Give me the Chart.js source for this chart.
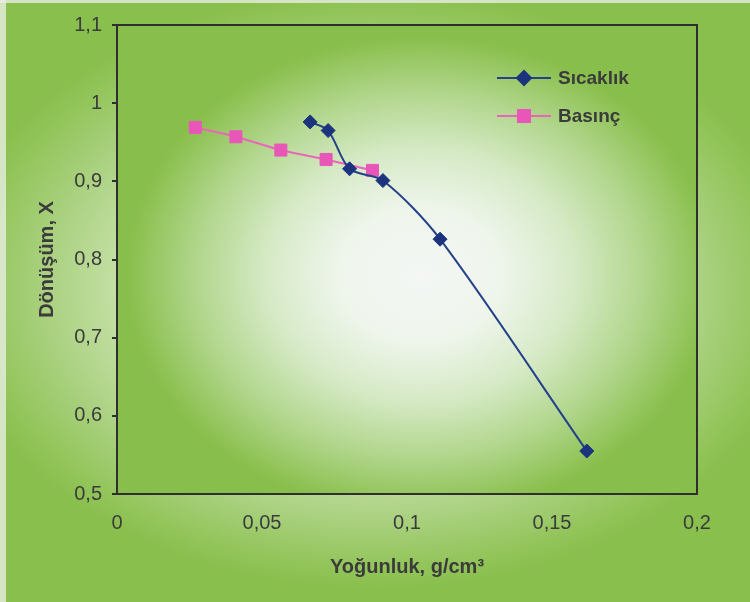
<!DOCTYPE html>
<html>
<head>
<meta charset="utf-8">
<script src="https://cdn.jsdelivr.net/npm/chart.js@4.4.1/dist/chart.umd.min.js"></script>
<style>
  html, body { margin: 0; padding: 0; background: #8bc152; }
  #wrap { width: 750px; height: 602px; }
</style>
</head>
<body>
<div id="wrap"><canvas id="conversionChart" width="750" height="602"></canvas></div>
<script>
// Dönüşüm (X) vs. yoğunluk, two series
const sicaklikDensity    = [0.0666, 0.0728, 0.0802, 0.0917, 0.1114, 0.1620];
const sicaklikConversion = [0.976, 0.965, 0.916, 0.901, 0.826, 0.555];
const basincDensity      = [0.0270, 0.0410, 0.0565, 0.0721, 0.0881];
const basincConversion   = [0.969, 0.957, 0.940, 0.928, 0.914];

const xTicks = [0, 0.05, 0.1, 0.15, 0.2];
const yTicks = [0.5, 0.6, 0.7, 0.8, 0.9, 1, 1.1];

const toPoints = (xs, ys) => xs.map((x, i) => ({ x: x, y: ys[i] }));
const comma = v => String(Math.round(v * 100) / 100).replace('.', ',');

const FONT = '"Liberation Sans", Arial, sans-serif';
const INK = '#3b3b3b';

// green backdrop with the light centre, plus the plot area's own fill
const backdrop = {
    id: 'backdrop',
    beforeDraw(chart) {
        const ctx = chart.ctx;
        const { width, height } = chart;
        const a = chart.chartArea;

        ctx.save();
        ctx.translate(375, 290);
        ctx.scale(1, 300 / 430);
        let g = ctx.createRadialGradient(0, 0, 0, 0, 0, 430);
        g.addColorStop(0, '#eef5ea');
        g.addColorStop(0.55, '#cbe4ae');
        g.addColorStop(0.75, '#acd283');
        g.addColorStop(0.92, '#93c55b');
        g.addColorStop(1, '#89bf4d');
        ctx.fillStyle = g;
        ctx.fillRect(-400, -500, 800, 1000);
        ctx.restore();

        // pale strip along the left and top edges
        ctx.save();
        ctx.fillStyle = 'rgba(232, 238, 228, 0.8)';
        ctx.fillRect(0, 0, 6, height);
        ctx.fillRect(0, 0, width, 3);
        ctx.restore();

        ctx.save();
        ctx.beginPath();
        ctx.rect(a.left, a.top, a.right - a.left, a.bottom - a.top);
        ctx.clip();
        ctx.translate(420, 275);
        ctx.scale(1, 240 / 295);
        g = ctx.createRadialGradient(0, 0, 0, 0, 0, 295);
        g.addColorStop(0, '#f4f7f5');
        g.addColorStop(0.28, '#eef5eb');
        g.addColorStop(0.52, '#d6eac6');
        g.addColorStop(0.76, '#b1d68c');
        g.addColorStop(0.95, '#90c357');
        g.addColorStop(1, '#88be4b');
        ctx.fillStyle = g;
        ctx.fillRect(-500, -500, 1000, 1000);
        ctx.restore();
    },
    afterDraw(chart) {
        // top and right sides of the plot frame
        const ctx = chart.ctx;
        const a = chart.chartArea;
        ctx.save();
        ctx.strokeStyle = '#2f2f2f';
        ctx.lineWidth = 2;
        ctx.beginPath();
        ctx.moveTo(a.left, a.top);
        ctx.lineTo(a.right, a.top);
        ctx.lineTo(a.right, a.bottom);
        ctx.stroke();
        ctx.restore();
    }
};

// legend sits inside the plot, top right
const insideLegend = {
    id: 'insideLegend',
    afterDatasetsDraw(chart) {
        const ctx = chart.ctx;
        chart.data.datasets.forEach((ds, i) => {
            const y = 78 + i * 38;
            ctx.save();
            ctx.strokeStyle = ds.borderColor;
            ctx.lineWidth = ds.borderWidth;
            ctx.beginPath();
            ctx.moveTo(497, y);
            ctx.lineTo(551, y);
            ctx.stroke();
            ctx.fillStyle = ds.pointBackgroundColor;
            ctx.strokeStyle = ds.pointBorderColor;
            Chart.helpers.drawPoint(ctx, {
                pointStyle: ds.pointStyle,
                radius: ds.pointRadius,
                rotation: 0,
                borderWidth: 1
            }, 524, y);
            ctx.fillStyle = INK;
            ctx.font = 'bold 19px ' + FONT;
            ctx.textBaseline = 'middle';
            ctx.textAlign = 'left';
            ctx.fillText(ds.label, 558, y + 1);
            ctx.restore();
        });
    }
};

const ctx = document.getElementById('conversionChart').getContext('2d');

new Chart(ctx, {
    type: 'line',
    data: {
        datasets: [{
            label: 'Sıcaklık',
            data: toPoints(sicaklikDensity, sicaklikConversion),
            borderColor: '#24418a',
            borderWidth: 2,
            tension: 0.3,
            pointStyle: 'rectRot',
            pointRadius: 7,
            pointBackgroundColor: '#1c337e',
            pointBorderColor: '#1c337e',
            pointBorderWidth: 1
        }, {
            label: 'Basınç',
            data: toPoints(basincDensity, basincConversion),
            borderColor: '#ea66bb',
            borderWidth: 2,
            tension: 0.3,
            pointStyle: 'rect',
            pointRadius: 8.5,
            pointBackgroundColor: '#e857b8',
            pointBorderColor: '#e857b8',
            pointBorderWidth: 1
        }]
    },
    options: {
        responsive: false,
        animation: false,
        devicePixelRatio: 1,
        layout: { padding: { left: 0, top: 25, right: 53, bottom: 0 } },
        plugins: {
            legend: { display: false },
            tooltip: { enabled: false }
        },
        scales: {
            x: {
                type: 'linear',
                min: 0,
                max: 0.2,
                afterBuildTicks: axis => { axis.ticks = xTicks.map(v => ({ value: v })); },
                afterFit: axis => { axis.height = 108; },
                grid: { display: false, drawTicks: false },
                border: { display: true, color: '#2f2f2f', width: 2 },
                ticks: {
                    padding: 17,
                    color: INK,
                    font: { family: FONT, size: 20 },
                    callback: v => comma(v)
                },
                title: {
                    display: true,
                    text: 'Yoğunluk, g/cm³',
                    color: INK,
                    font: { family: FONT, size: 20, weight: 'bold' },
                    padding: { top: 0, bottom: 23 }
                }
            },
            y: {
                type: 'linear',
                min: 0.5,
                max: 1.1,
                afterBuildTicks: axis => { axis.ticks = yTicks.map(v => ({ value: v })); },
                afterFit: axis => { axis.width = 117; },
                grid: {
                    drawOnChartArea: false,
                    drawTicks: true,
                    tickLength: 5,
                    color: '#2f2f2f',
                    lineWidth: 2
                },
                border: { display: true, color: '#2f2f2f', width: 2 },
                ticks: {
                    padding: 10,
                    color: INK,
                    font: { family: FONT, size: 20 },
                    callback: v => comma(v)
                },
                title: {
                    display: true,
                    text: 'Dönüşüm, X',
                    color: INK,
                    font: { family: FONT, size: 20, weight: 'bold' },
                    padding: { top: 35, bottom: 0 }
                }
            }
        }
    },
    plugins: [backdrop, insideLegend]
});
</script>
</body>
</html>
